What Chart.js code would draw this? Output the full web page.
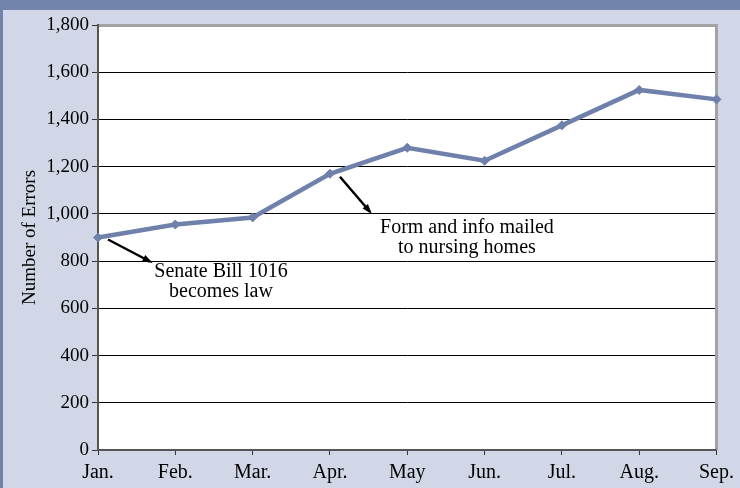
<!DOCTYPE html>
<html>
<head>
<meta charset="utf-8">
<script src="https://cdn.jsdelivr.net/npm/chart.js@4"></script>
<style>
  html, body { margin: 0; padding: 0; background: #d1d7e6; }
  #wrap { width: 740px; height: 488px; position: relative; }
</style>
</head>
<body>
<div id="wrap"><canvas id="chart" width="740" height="488"></canvas></div>
<script>
// ─── data ───
const months = ['Jan.', 'Feb.', 'Mar.', 'Apr.', 'May', 'Jun.', 'Jul.', 'Aug.', 'Sep.'];
const errors = [900, 955, 985, 1170, 1280, 1225, 1375, 1525, 1485];
const yTicks = [0, 200, 400, 600, 800, 1000, 1200, 1400, 1600, 1800];

// annotations: point index, text lines, offsets from the point
const notes = [
  { idx: 0, lines: ['Senate Bill 1016', 'becomes law'], arrow: [10, 2, 52, 24], text: [123, 34] },
  { idx: 3, lines: ['Form and info mailed', 'to nursing homes'], arrow: [10, 3, 40, 38], text: [137, 54] },
];

const SERIF = '"Liberation Serif", "Times New Roman", serif';
const LINE = '#6f80ab';

// ─── backdrop + frame ───
const framePlugin = {
  id: 'frame',
  beforeDraw(chart) {
    const { ctx, chartArea: a } = chart;
    ctx.save();
    ctx.fillStyle = '#d1d7e6';
    ctx.fillRect(0, 0, chart.width, chart.height);
    ctx.fillStyle = '#7283ab';
    ctx.fillRect(0, 0, chart.width, 10);
    ctx.fillRect(0, 0, 3, chart.height);
    ctx.fillStyle = '#ffffff';
    ctx.fillRect(a.left, a.top, a.right - a.left, a.bottom - a.top);
    ctx.restore();
  },
  beforeDatasetsDraw(chart) {
    const { ctx, chartArea: a } = chart;
    ctx.save();
    ctx.strokeStyle = '#a3a3a3';
    ctx.lineWidth = 3;
    ctx.beginPath();
    ctx.moveTo(a.left, a.top + 0.5);
    ctx.lineTo(a.right, a.top + 0.5);
    ctx.lineTo(a.right, a.bottom);
    ctx.stroke();
    ctx.strokeStyle = '#555';
    ctx.lineWidth = 2;
    ctx.beginPath();
    ctx.moveTo(a.left, a.top - 1);
    ctx.lineTo(a.left, a.bottom);
    ctx.lineTo(a.right, a.bottom);
    ctx.stroke();
    ctx.restore();
  },
  afterDatasetsDraw(chart) {
    const { ctx } = chart;
    const xs = chart.scales.x, ys = chart.scales.y;
    ctx.save();
    notes.forEach(n => {
      const px = xs.getPixelForValue(n.idx);
      const py = ys.getPixelForValue(errors[n.idx]);
      const [sx, sy, ex, ey] = n.arrow;
      const x1 = px + sx, y1 = py + sy, x2 = px + ex, y2 = py + ey;
      ctx.strokeStyle = '#000';
      ctx.fillStyle = '#000';
      ctx.lineWidth = 2.5;
      ctx.beginPath();
      ctx.moveTo(x1, y1);
      ctx.lineTo(x2, y2);
      ctx.stroke();
      const ang = Math.atan2(y2 - y1, x2 - x1);
      ctx.beginPath();
      ctx.moveTo(x2 + 3 * Math.cos(ang), y2 + 3 * Math.sin(ang));
      ctx.lineTo(x2 - 8 * Math.cos(ang - 0.45), y2 - 8 * Math.sin(ang - 0.45));
      ctx.lineTo(x2 - 8 * Math.cos(ang + 0.45), y2 - 8 * Math.sin(ang + 0.45));
      ctx.closePath();
      ctx.fill();
      ctx.font = '20px ' + SERIF;
      ctx.textAlign = 'center';
      ctx.textBaseline = 'middle';
      n.lines.forEach((t, i) => ctx.fillText(t, px + n.text[0], py + n.text[1] + i * 20));
    });
    ctx.restore();
  }
};

new Chart(document.getElementById('chart'), {
  type: 'line',
  data: {
    labels: months,
    datasets: [{
      data: errors,
      borderColor: LINE,
      backgroundColor: LINE,
      borderWidth: 4.5,
      pointStyle: 'rectRot',
      pointRadius: 4.5,
      pointBorderWidth: 1,
      tension: 0,
      clip: false,
    }]
  },
  options: {
    responsive: false,
    animation: false,
    layout: { padding: { top: 25, right: 22, bottom: 0, left: 0 } },
    plugins: { legend: { display: false }, tooltip: { enabled: false } },
    scales: {
      x: {
        offset: false,
        afterFit: s => { s.height = 38; },
        grid: { display: true, drawOnChartArea: false, drawTicks: true, tickLength: 5, tickColor: '#333' },
        border: { display: false },
        ticks: { color: '#000', padding: 6, maxRotation: 0, font: { family: SERIF, size: 20 } },
      },
      y: {
        min: 0, max: 1800,
        afterFit: s => { s.width = 98; },
        afterBuildTicks: s => { s.ticks = yTicks.map(v => ({ value: v })); },
        grid: {
          color: c => (c.tick && c.tick.value === 1800) || (c.tick && c.tick.value === 0) ? 'rgba(0,0,0,0)' : '#000',
          lineWidth: 1,
          tickLength: 6,
          tickColor: '#333',
        },
        border: { display: false },
        ticks: {
          color: '#000', padding: 3,
          font: { family: SERIF, size: 19 },
          callback: v => v.toLocaleString('en-US'),
        },
        title: {
          display: true, text: 'Number of Errors', color: '#000',
          font: { family: SERIF, size: 19 },
          padding: { top: 19, bottom: 0 },
        },
      }
    }
  },
  plugins: [framePlugin]
});
</script>
</body>
</html>
